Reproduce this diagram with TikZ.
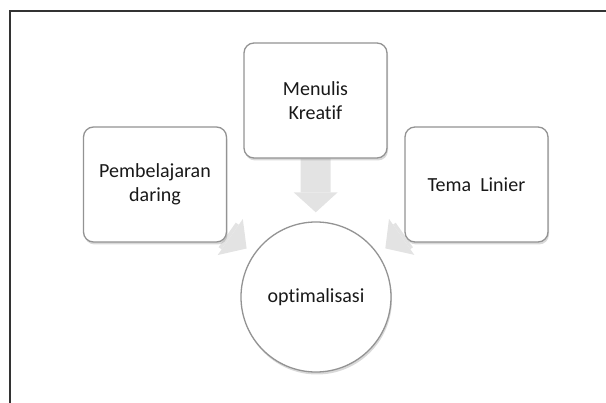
\documentclass[tikz,border=0pt]{standalone}
\usepackage{fontspec}
\setmainfont{Carlito}[Ligatures=NoCommon]
\usetikzlibrary{arrows.meta,shadows,backgrounds}

\tikzset{
  box/.style={rounded corners=10pt, minimum width=143pt, minimum height=115pt},
  flow/.style={line width=30pt, gray!22, shorten >=9pt,
    -{Triangle[width=44pt,length=20pt,line width=0pt]}}
}

\begin{document}
\begin{tikzpicture}[x=1pt,y=-1pt]

        \useasboundingbox (0,0) rectangle (606,403);
        \draw[line width=2pt, black!80] (10,403) -- (10,11) -- (606,11);

        \begin{scope}[every node/.style={draw=gray!85, line width=1.3pt, fill=white,
            align=center, text=black!90, font=\fontsize{20}{24}\selectfont,
            drop shadow={shadow xshift=1pt, shadow yshift=-2.5pt, opacity=.3}}]
          \node[box] (daring) at (155,184.5) {Pembelajaran\\daring};
          \node[box] (kreatif) at (315.5,100.5) {Menulis\\Kreatif};
          \node[box] (tema) at (476.5,184.5) {Tema\ \ Linier};
          \node[circle, minimum size=150pt] (opt) at (316,297) {optimalisasi};
        \end{scope}

        \begin{scope}[on background layer, every edge/.style={draw, flow}]
          \path (daring)  edge (opt);
          \path (kreatif) edge (opt);
          \path (tema)    edge (opt);
        \end{scope}

      \end{tikzpicture}
\end{document}
